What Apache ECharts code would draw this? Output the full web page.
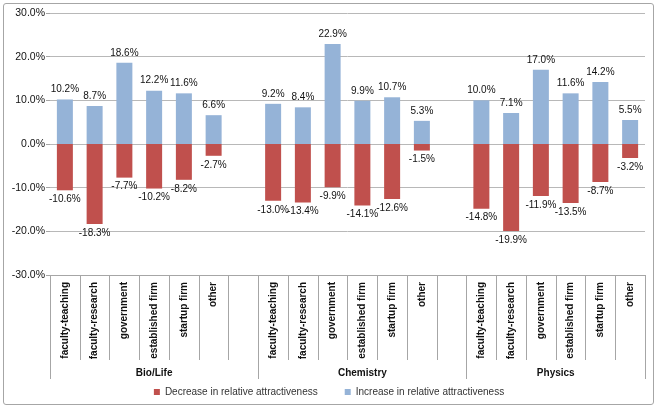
<!DOCTYPE html>
<html>
<head>
<meta charset="utf-8">
<script src="https://cdn.jsdelivr.net/npm/echarts@6/dist/echarts.min.js"></script>
<style>
html,body{margin:0;padding:0;background:#fff;}
#wrap{position:relative;width:658px;height:409px;}
#chart{position:absolute;left:0;top:0;width:658px;height:409px;}
#frame{position:absolute;left:3px;top:3px;width:649px;height:400px;border:1px solid #a6a6a6;border-radius:3px;pointer-events:none;}
</style>
</head>
<body>
<div id="wrap"><div id="chart"></div><div id="frame"></div></div>
<script>
const roles = ['faculty-teaching','faculty-research','government','established firm','startup firm','other'];
const groups = ['Bio/Life','Chemistry','Physics'];
const decreaseBio = [-10.6,-18.3,-7.7,-10.2,-8.2,-2.7];
const decreaseChem = [-13.0,-13.4,-9.9,-14.1,-12.6,-1.5];
const decreasePhys = [-14.8,-19.9,-11.9,-13.5,-8.7,-3.2];
const increaseBio = [10.2,8.7,18.6,12.2,11.6,6.6];
const increaseChem = [9.2,8.4,22.9,9.9,10.7,5.3];
const increasePhys = [10.0,7.1,17.0,11.6,14.2,5.5];
const yTicks = [-30,-20,-10,0,10,20,30];
const seriesNames = ['Decrease in relative attractiveness','Increase in relative attractiveness'];

// 20 slots: 6 + gap + 6 + gap + 6
const cats = [...roles, '', ...roles, '', ...roles];
const dec = [...decreaseBio, null, ...decreaseChem, null, ...decreasePhys];
const inc = [...increaseBio, null, ...increaseChem, null, ...increasePhys];

// group axis: 41 points at half-slot positions
const groupCats = [];
for (let k = 0; k <= 40; k++) groupCats.push('');
groupCats[7] = groups[0];
groupCats[21] = groups[1];
groupCats[34] = groups[2];
const groupBounds = [0, 14, 28, 40];

const font = '"Liberation Sans", Arial, sans-serif';
const chart = echarts.init(document.getElementById('chart'));
chart.setOption({
  animation: false,
  textStyle: {fontFamily: font},
  grid: {left: 50, right: 13, top: 13, bottom: 134, containLabel: false},
  legend: {
    bottom: 7, left: 'center', itemWidth: 6, itemHeight: 6, itemGap: 27,
    icon: 'rect',
    textStyle: {fontSize: 10, color: '#333', fontFamily: font},
    data: seriesNames
  },
  xAxis: [{
    type: 'category', data: cats, position: 'bottom',
    axisLine: {onZero: false, lineStyle: {color: '#a6a6a6'}},
    axisTick: {show: true, interval: 0, length: 85, lineStyle: {color: '#a6a6a6'}},
    axisLabel: {interval: 0, rotate: 90, fontSize: 10, fontWeight: 'bold', color: '#111', margin: 7, fontFamily: font},
    splitLine: {show: false}
  }, {
    type: 'category', data: groupCats, position: 'bottom', offset: 85, boundaryGap: false,
    axisLine: {show: false, onZero: false},
    axisTick: {show: true, length: 19, interval: (i) => groupBounds.includes(i), lineStyle: {color: '#a6a6a6'}},
    axisLabel: {interval: 0, fontSize: 10, fontWeight: 'bold', color: '#111', margin: 8, fontFamily: font},
    splitLine: {show: false}
  }],
  yAxis: {
    type: 'value', min: -30, max: 30, interval: 10,
    axisLine: {show: false},
    axisTick: {show: true, length: 4, lineStyle: {color: '#a6a6a6'}},
    axisLabel: {formatter: (v) => v.toFixed(1) + '%', fontSize: 10.5, color: '#111', margin: 5, fontFamily: font},
    splitLine: {lineStyle: {color: '#b8b8b8'}}
  },
  series: [{
    name: seriesNames[0], type: 'bar', xAxisIndex: 0, data: dec, barWidth: 16,
    itemStyle: {color: '#c0504d'},
    label: {show: true, position: 'bottom', distance: 4, fontSize: 10, color: '#111', fontFamily: font,
      formatter: (p) => p.value == null ? '' : p.value.toFixed(1) + '%'}
  }, {
    name: seriesNames[1], type: 'bar', xAxisIndex: 0, data: inc, barWidth: 16, barGap: '-100%',
    itemStyle: {color: '#95b3d7'},
    label: {show: true, position: 'top', distance: 5, fontSize: 10, color: '#111', fontFamily: font,
      formatter: (p) => p.value == null ? '' : p.value.toFixed(1) + '%'}
  }]
});
</script>
</body>
</html>
